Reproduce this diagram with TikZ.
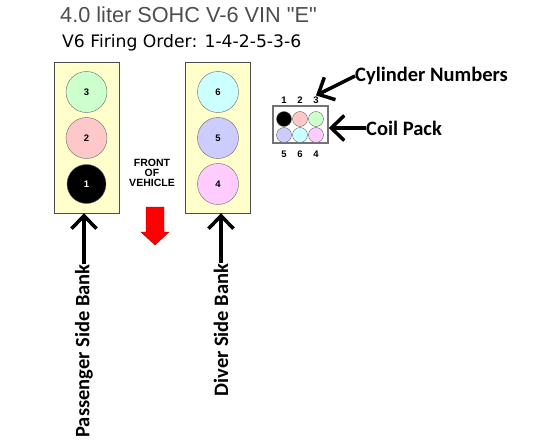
\documentclass[tikz,border=0pt]{standalone}
\usepackage{fontspec}
\usetikzlibrary{arrows.meta}
\newfontfamily\arialf{Liberation Sans}
\newfontfamily\verdf{DejaVu Sans}
\newfontfamily\calif{Carlito}
\definecolor{bankfill}{HTML}{FFFFCC}
\definecolor{titlegray}{HTML}{4D4D4D}
\definecolor{cylgreen}{HTML}{CCFFCC}
\definecolor{cylpink}{HTML}{FFC8C8}
\definecolor{cylcyan}{HTML}{CCFFFF}
\definecolor{cylblue}{HTML}{CCCCFF}
\definecolor{cylmag}{HTML}{FFCCFF}
\definecolor{arrowred}{HTML}{FF0000}
\begin{document}
\begin{tikzpicture}[x=1pt,y=-1pt,
    bank/.style={draw=black!70, fill=bankfill, minimum width=65pt, minimum height=151pt, inner sep=0pt},
    cyl/.style={circle, draw=black!60, minimum size=41pt, inner sep=0pt, font=\arialf\bfseries\fontsize{9.5}{10}\selectfont},
    plug/.style={circle, draw=black!60, minimum size=15pt, inner sep=0pt},
    num/.style={inner sep=1pt, font=\arialf\bfseries\fontsize{9.5}{10}\selectfont},
    lbl/.style={inner sep=0pt, font=\calif\bfseries\fontsize{20.5}{22}\selectfont},
    arr/.style={line width=3.5pt, -{Straight Barb[length=13pt,width=25pt]}}]
    \useasboundingbox (0,0) rectangle (536,447);
    \node [anchor=west, inner sep=0pt, text=titlegray, font=\arialf\fontsize{21.7}{22}\selectfont] (title) at (60,15) {4.0 liter SOHC V-6 VIN \symbol{34}E\symbol{34}};
    \node [anchor=west, inner sep=0pt, font=\verdf\fontsize{17.2}{18}\selectfont] (order) at (62,43) {V6 Firing Order: 1-4-2-5-3-6};
    \node [bank] (lbank) at (86.5,137.5) {};
    \node [bank] (rbank) at (218,137.5) {};
    \node [cyl, fill=cylgreen] (c3) at (86.5,92) {3};
    \node [cyl, fill=cylpink] (c2) at (86.5,138) {2};
    \node [cyl, fill=black, text=white, minimum size=39pt] (c1) at (86.5,184) {1};
    \node [cyl, fill=cylcyan] (c6) at (218,92) {6};
    \node [cyl, fill=cylblue] (c5) at (218,138) {5};
    \node [cyl, fill=cylmag] (c4) at (218,184) {4};
    \node [align=center, inner sep=0pt, font=\arialf\bfseries\fontsize{10.5}{10}\selectfont] (front) at (152,173) {FRONT\\OF\\VEHICLE};
    \draw [draw=red!60!black, fill=arrowred] (146,207) -- (164,207) -- (164,232) -- (169,232) -- (155,245) -- (141,232) -- (146,232) -- cycle;
    \node [draw=black!55, line width=1.5pt, fill=white, minimum width=55pt, minimum height=37pt] (coil) at (300.5,124.5) {};
    \node [plug, fill=black] (p1) at (284,119) {};
    \node [plug, fill=cylpink] (p2) at (300,119) {};
    \node [plug, fill=cylgreen] (p3) at (316,119) {};
    \node [plug, fill=cylblue] (p5) at (284,135) {};
    \node [plug, fill=cylcyan] (p6) at (300,135) {};
    \node [plug, fill=cylmag] (p4) at (316,135) {};
    \node [num] (n1) at (284,100) {1};
    \node [num] (n2) at (300,100) {2};
    \node [num] (n3) at (316,100) {3};
    \node [num] (n5) at (284,154) {5};
    \node [num] (n6) at (300,154) {6};
    \node [num] (n4) at (316,154) {4};
    \node [lbl, anchor=west] (cylnum) at (355,76) {Cylinder Numbers};
    \node [lbl, anchor=west] (coilpack) at (366,128) {Coil Pack};
    \node [lbl, rotate=90] (psb) at (84,351) {Passenger Side Bank};
    \node [lbl, rotate=90] (dsb) at (221,330) {Diver Side Bank};
    \draw [arr] (cylnum.west) -- (n3.north);
    \draw [arr] (coilpack.west) -- (coilpack.west -| coil.east);
    \draw [arr] (psb.east) -- (psb.east |- lbank.south);
    \draw [arr] (dsb.east) -- (dsb.east |- rbank.south);
\end{tikzpicture}
\end{document}
